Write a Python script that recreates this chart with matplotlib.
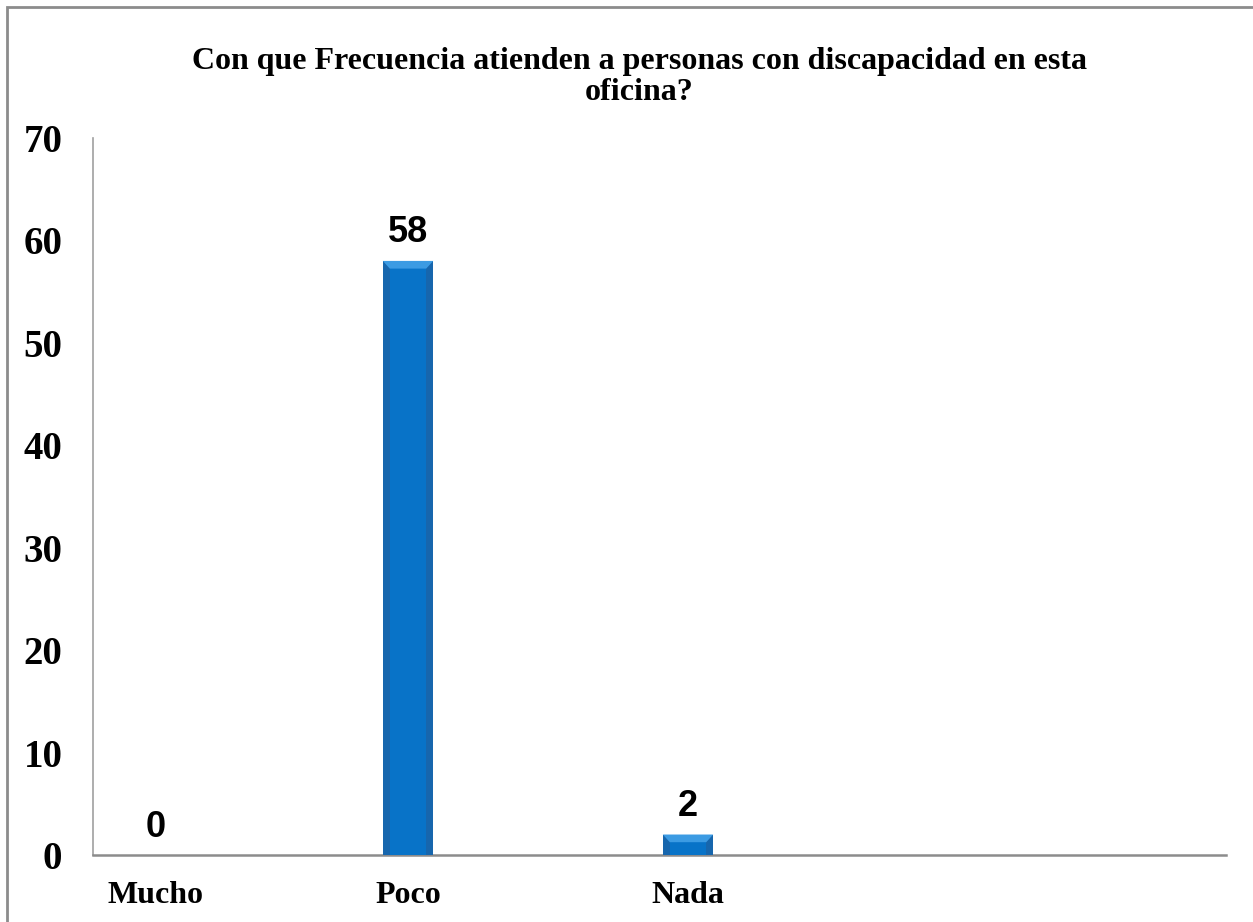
import matplotlib.pyplot as plt
from matplotlib.patches import Rectangle, Polygon

categorias = ["Mucho", "Poco", "Nada"]
valores = [0, 58, 2]
xpos = [0.1, 1.0, 2.0]

fig = plt.figure(figsize=(12.53, 9.22), dpi=100)
ax = fig.add_axes([93 / 1253, 1 - 855 / 922, (1226 - 93) / 1253, (855 - 138) / 922])

# marco exterior del grafico
fig.patches.append(Rectangle((7 / 1253, -0.1), 1.2, 1 - 7 / 922 + 0.1,
                             transform=fig.transFigure, fill=False,
                             edgecolor="#8c8c8c", linewidth=2))

ancho = 0.18
barras = ax.bar(xpos, valores, width=ancho, color="#0873c8",
                edgecolor="none", zorder=3)
# biselado: bordes laterales mas oscuros y cara superior clara
for b in barras:
    h = b.get_height()
    if h <= 0:
        continue
    x0, x1 = b.get_x(), b.get_x() + b.get_width()
    d = 0.025
    ax.add_patch(Rectangle((x0, 0), d, h, color="#1766ad", zorder=4, lw=0))
    ax.add_patch(Rectangle((x1 - d, 0), d, h, color="#1766ad", zorder=4, lw=0))
    ax.add_patch(Polygon([(x0, h), (x1, h), (x1 - d, h - 0.75), (x0 + d, h - 0.75)],
                         closed=True, color="#3c9be3", zorder=5, lw=0))

for x, v in zip(xpos, valores):
    ax.text(x, v + 1.8, str(v), ha="center", va="baseline",
            fontfamily="Liberation Sans", fontweight="bold", fontsize=26)

ax.set_xlim(1 - 315 / 280, 1 + 818 / 280)
ax.set_ylim(0, 70)
ax.set_yticks(range(0, 71, 10))
ax.set_xticks(xpos)
ax.set_xticklabels(categorias)
ax.tick_params(length=0)
ax.tick_params(axis="y", pad=22)
ax.tick_params(axis="x", pad=19)
for lab in ax.get_yticklabels():
    lab.set_fontfamily("Liberation Serif")
    lab.set_fontweight("bold")
    lab.set_fontsize(28)
for lab in ax.get_xticklabels():
    lab.set_fontfamily("Liberation Serif")
    lab.set_fontweight("bold")
    lab.set_fontsize(23)

ax.spines["top"].set_visible(False)
ax.spines["right"].set_visible(False)
ax.spines["left"].set_color("#a0a0a0")
ax.spines["bottom"].set_color("#8c8c8c")
ax.spines["left"].set_linewidth(1.2)
ax.spines["bottom"].set_linewidth(1.8)

fig.text(639 / 1253, 1 - 77 / 922,
         "Con que Frecuencia atienden a personas con discapacidad en esta\noficina?",
         ha="center", va="center", fontfamily="Liberation Serif",
         fontweight="bold", fontsize=23, linespacing=1.12)

fig.savefig("out.png", dpi=100)
